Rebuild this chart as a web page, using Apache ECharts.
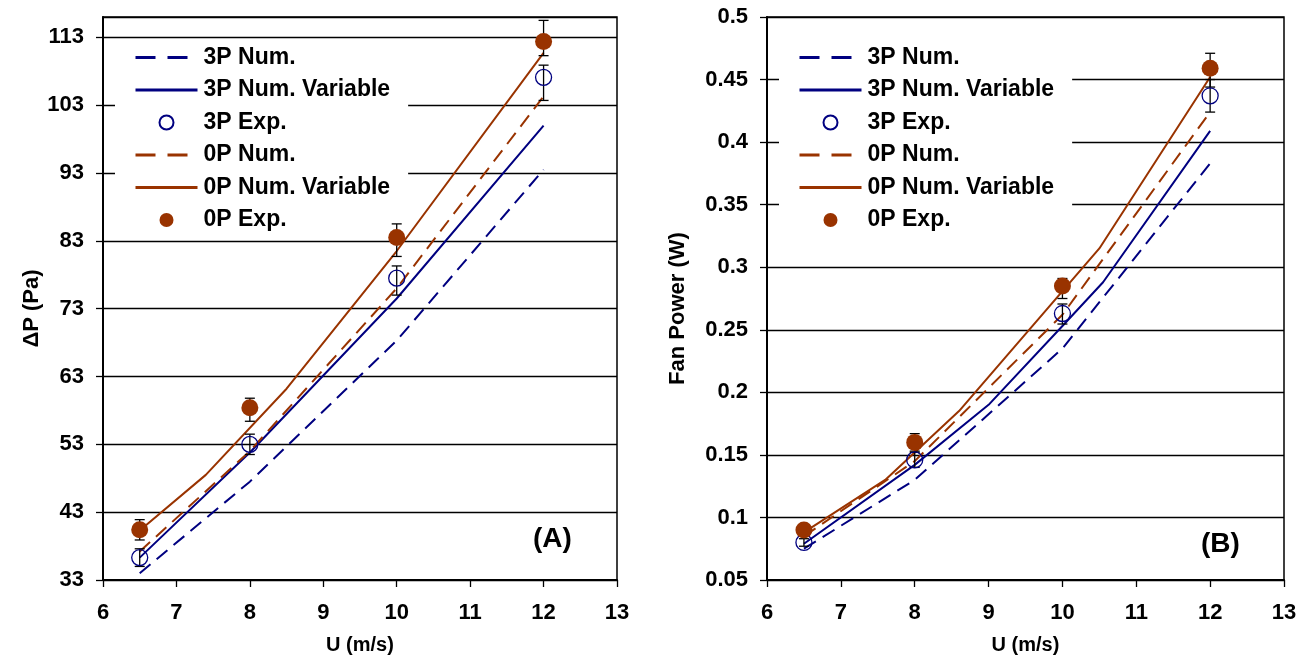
<!DOCTYPE html>
<html>
<head>
<meta charset="utf-8">
<script src="https://cdn.jsdelivr.net/npm/echarts@6/dist/echarts.min.js"></script>
<style>
html,body{margin:0;padding:0;background:#fff;}
#chart{width:1314px;height:662px;}
</style>
</head>
<body>
<div id="chart"></div>
<script>
// ---------- data ----------
const U = [6.5, 8, 10, 12];
const xTicks = [6, 7, 8, 9, 10, 11, 12, 13];

// Panel (A): pressure drop (Pa)
const dp3PNum = [34.0, 47.5, 68.3, 93.5];
const dp3PVar = [36.3, 51.8, 74.5, 100.0];
const dp3PExp = [36.3, 53.0, 77.5, 107.1];
const dp3PExpLow = [35.0, 51.5, 75.0, 103.7];
const dp3PExpHigh = [37.6, 54.5, 79.3, 108.9];
const dp0PNum = [37.2, 52.0, 76.0, 104.3];
const U0PVarDp = [6.5, 7.4, 8.5, 10, 12];
const dp0PVar = [40.3, 48.5, 61.2, 81.5, 110.7];
const dp0PExp = [40.4, 58.4, 83.5, 112.4];
const dp0PExpLow = [38.9, 56.4, 80.7, 110.3];
const dp0PExpHigh = [41.9, 59.8, 85.5, 115.5];

// Panel (B): fan power (W)
const fp3PNum = [0.075, 0.130, 0.235, 0.383];
const U3PVarFp = [6.5, 8, 9, 10, 10.55, 12];
const fp3PVar = [0.079, 0.142, 0.190, 0.253, 0.288, 0.409];
const fp3PExp = [0.080, 0.146, 0.263, 0.437];
const fp3PExpLow = [0.077, 0.140, 0.2546, 0.424];
const fp3PExpHigh = [0.083, 0.152, 0.2706, 0.450];
const fp0PNum = [0.085, 0.145, 0.262, 0.424];
const U0PVarFp = [6.5, 7.6, 8.6, 10.5, 12];
const fp0PVar = [0.088, 0.130, 0.185, 0.315, 0.452];
const fp0PExp = [0.090, 0.160, 0.285, 0.459];
const fp0PExpLow = [0.087, 0.153, 0.275, 0.444];
const fp0PExpHigh = [0.093, 0.167, 0.291, 0.471];

const names = ['3P Num.', '3P Num. Variable', '3P Exp.', '0P Num.', '0P Num. Variable', '0P Exp.'];
const panelLabels = ['(A)', '(B)'];
const yNames = ['\u0394P (Pa)', 'Fan Power (W)'];
const xName = 'U (m/s)';

// ---------- styling ----------
const BLUE = '#000080';
const BROWN = '#993300';
const FONT = "'Liberation Sans', Arial, sans-serif";
const CLEAR = 'rgba(0,0,0,0)';

const zip = (xs, ys) => xs.map((x, i) => [x, ys[i]]);
const zip3 = (xs, lo, hi) => xs.map((x, i) => [x, lo[i], hi[i]]);

function errRender(params, api) {
  const x = api.value(0);
  const p1 = api.coord([x, api.value(1)]);
  const p2 = api.coord([x, api.value(2)]);
  const w = 5;
  const st = { stroke: '#000', lineWidth: 1.3 };
  return {
    type: 'group',
    children: [
      { type: 'line', shape: { x1: p1[0], y1: p1[1], x2: p2[0], y2: p2[1] }, style: st },
      { type: 'line', shape: { x1: p1[0] - w, y1: p1[1], x2: p1[0] + w, y2: p1[1] }, style: st },
      { type: 'line', shape: { x1: p2[0] - w, y1: p2[1], x2: p2[0] + w, y2: p2[1] }, style: st }
    ]
  };
}

function lineSeries(name, idx, data, color, dashed) {
  return {
    name: name, type: 'line', xAxisIndex: idx, yAxisIndex: idx, data: data,
    symbol: 'circle', symbolSize: 0, showSymbol: false,
    lineStyle: { color: color, width: 2, type: dashed ? [14, 8] : 'solid' },
    itemStyle: { color: CLEAR, borderWidth: 0 }, z: 3
  };
}

function panelSeries(idx, d) {
  return [
    lineSeries(names[0], idx, zip(U, d.num3), BLUE, true),
    lineSeries(names[1], idx, zip(d.var3U, d.var3), BLUE, false),
    { name: 'err3', type: 'custom', xAxisIndex: idx, yAxisIndex: idx, data: zip3(U, d.exp3Lo, d.exp3Hi),
      renderItem: errRender, z: 4 },
    { name: names[2], type: 'scatter', xAxisIndex: idx, yAxisIndex: idx, data: zip(U, d.exp3), symbol: 'circle', symbolSize: 16,
      itemStyle: { color: CLEAR, borderColor: BLUE, borderWidth: 1.3, opacity: 1 }, z: 5 },
    lineSeries(names[3], idx, zip(U, d.num0), BROWN, true),
    lineSeries(names[4], idx, zip(d.var0U, d.var0), BROWN, false),
    { name: 'err0', type: 'custom', xAxisIndex: idx, yAxisIndex: idx, data: zip3(U, d.exp0Lo, d.exp0Hi),
      renderItem: errRender, z: 4 },
    { name: names[5], type: 'scatter', xAxisIndex: idx, yAxisIndex: idx, data: zip(U, d.exp0), symbol: 'circle', symbolSize: 17,
      itemStyle: { color: BROWN, borderWidth: 0, opacity: 1 }, z: 5 }
  ];
}

const labelStyle = { color: '#000', fontFamily: FONT, fontWeight: 'bold', fontSize: 22 };

function xAxis(idx) {
  return {
    type: 'value', gridIndex: idx, min: xTicks[0], max: xTicks[xTicks.length - 1], interval: 1,
    name: xName, nameLocation: 'middle', nameGap: 55,
    nameTextStyle: { color: '#000', fontFamily: FONT, fontWeight: 'bold', fontSize: 20 },
    axisLine: { show: true, lineStyle: { color: '#000', width: 2 } },
    axisTick: { show: true, inside: false, length: 7, lineStyle: { color: '#000', width: 1.3 } },
    axisLabel: Object.assign({ margin: 22 }, labelStyle),
    splitLine: { show: false }
  };
}

function yAxis(idx, min, max, interval, nameGap, fmt) {
  return {
    type: 'value', gridIndex: idx, min: min, max: max, interval: interval,
    name: yNames[idx], nameLocation: 'middle', nameGap: nameGap, nameRotate: 90,
    nameTextStyle: { color: '#000', fontFamily: FONT, fontWeight: 'bold', fontSize: 22, padding: [0, 20, 0, 0] },
    axisLine: { show: true, onZero: false, lineStyle: { color: '#000', width: 2 } },
    axisTick: { show: true, inside: false, length: 7, lineStyle: { color: '#000', width: 1.3 } },
    axisLabel: Object.assign({ margin: 19, showMaxLabel: idx === 1, formatter: fmt }, labelStyle),
    splitLine: { show: true, lineStyle: { color: '#000', width: 1.3 } }
  };
}

function legendData() {
  return names.map((n, i) => {
    const item = { name: n };
    if (i === 0 || i === 3) item.lineStyle = { type: [20, 12], width: 3 };
    if (i === 1 || i === 4) item.lineStyle = { width: 3 };
    return item;
  });
}

function legend(left) {
  return {
    show: true, orient: 'vertical', left: left, top: 40,
    data: legendData(), itemWidth: 62, itemHeight: 14, itemGap: 9.5,
    padding: [6, 18, 3, 19], backgroundColor: '#fff',
    selectedMode: false,
    textStyle: { color: '#000', fontFamily: FONT, fontWeight: 'bold', fontSize: 23, lineHeight: 22, padding: [0, 0, 0, 1] },
    z: 1
  };
}

const option = {
  backgroundColor: '#fff',
  animation: false,
  grid: [
    { left: 103, right: 697, top: 17, bottom: 82, show: true, borderColor: '#000', borderWidth: 1.5, backgroundColor: 'transparent', z: 0 },
    { left: 767, right: 30, top: 17, bottom: 82, show: true, borderColor: '#000', borderWidth: 1.5, backgroundColor: 'transparent', z: 0 }
  ],
  legend: [legend(115), legend(779)],
  xAxis: [xAxis(0), xAxis(1)],
  yAxis: [
    yAxis(0, 33, 116, 10, 60, v => String(v)),
    yAxis(1, 0.05, 0.5, 0.05, 78, v => String(+v.toFixed(2)))
  ],
  graphic: [
    { type: 'text', left: 533, top: 525, z: 20, style: { text: panelLabels[0], fill: '#000', font: 'bold 28px ' + FONT } },
    { type: 'text', left: 1201, top: 530, z: 20, style: { text: panelLabels[1], fill: '#000', font: 'bold 28px ' + FONT } }
  ],
  series: [].concat(
    panelSeries(0, { num3: dp3PNum, var3U: U, var3: dp3PVar, exp3: dp3PExp, exp3Lo: dp3PExpLow, exp3Hi: dp3PExpHigh,
                     num0: dp0PNum, var0U: U0PVarDp, var0: dp0PVar, exp0: dp0PExp, exp0Lo: dp0PExpLow, exp0Hi: dp0PExpHigh }),
    panelSeries(1, { num3: fp3PNum, var3U: U3PVarFp, var3: fp3PVar, exp3: fp3PExp, exp3Lo: fp3PExpLow, exp3Hi: fp3PExpHigh,
                     num0: fp0PNum, var0U: U0PVarFp, var0: fp0PVar, exp0: fp0PExp, exp0Lo: fp0PExpLow, exp0Hi: fp0PExpHigh })
  )
};

const chart = echarts.init(document.getElementById('chart'), null, { renderer: 'canvas' });
chart.setOption(option);
</script>
</body>
</html>
